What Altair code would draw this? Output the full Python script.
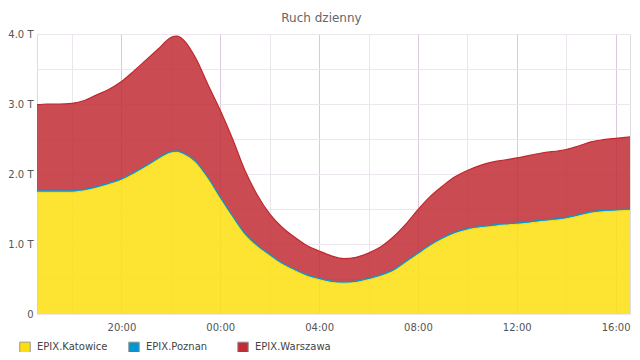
import altair as alt
import pandas as pd

# time stamps (local), 24 h window
times = [
    "2024-01-01T16:35", "2024-01-01T17:00", "2024-01-01T17:30", "2024-01-01T18:00",
    "2024-01-01T18:30", "2024-01-01T19:00", "2024-01-01T19:30", "2024-01-01T20:00",
    "2024-01-01T20:30", "2024-01-01T21:00", "2024-01-01T21:30", "2024-01-01T22:00",
    "2024-01-01T22:15", "2024-01-01T22:30", "2024-01-01T23:00", "2024-01-01T23:30",
    "2024-01-02T00:00", "2024-01-02T00:30", "2024-01-02T01:00", "2024-01-02T01:30",
    "2024-01-02T02:00", "2024-01-02T02:30", "2024-01-02T03:00", "2024-01-02T03:30",
    "2024-01-02T04:00", "2024-01-02T04:30", "2024-01-02T05:00", "2024-01-02T05:30",
    "2024-01-02T06:00", "2024-01-02T06:30", "2024-01-02T07:00", "2024-01-02T07:30",
    "2024-01-02T08:00", "2024-01-02T08:30", "2024-01-02T09:00", "2024-01-02T09:30",
    "2024-01-02T10:00", "2024-01-02T10:30", "2024-01-02T11:00", "2024-01-02T11:30",
    "2024-01-02T12:00", "2024-01-02T13:00", "2024-01-02T14:00", "2024-01-02T14:30",
    "2024-01-02T15:00", "2024-01-02T15:30", "2024-01-02T16:00", "2024-01-02T16:35",
]

# values in T
katowice = [
    1.74, 1.74, 1.74, 1.74, 1.76, 1.80, 1.85, 1.91,
    2.00, 2.10, 2.21, 2.30, 2.31, 2.28, 2.16, 1.93,
    1.65, 1.38, 1.13, 0.96, 0.83, 0.71, 0.62, 0.54,
    0.49, 0.45, 0.44, 0.45, 0.49, 0.54, 0.61, 0.73,
    0.85, 0.97, 1.07, 1.15, 1.20, 1.23, 1.25, 1.27,
    1.28, 1.32, 1.36, 1.40, 1.44, 1.46, 1.47, 1.48,
]
poznan = [
    0.02, 0.02, 0.02, 0.02, 0.02, 0.02, 0.02, 0.02,
    0.02, 0.02, 0.02, 0.02, 0.02, 0.02, 0.02, 0.02,
    0.02, 0.02, 0.02, 0.02, 0.02, 0.02, 0.02, 0.02,
    0.02, 0.02, 0.02, 0.02, 0.02, 0.02, 0.02, 0.02,
    0.02, 0.02, 0.02, 0.02, 0.02, 0.02, 0.02, 0.02,
    0.02, 0.02, 0.02, 0.02, 0.02, 0.02, 0.02, 0.02,
]
warszawa = [
    1.23, 1.24, 1.24, 1.25, 1.27, 1.31, 1.34, 1.39,
    1.45, 1.51, 1.56, 1.63, 1.64, 1.62, 1.48, 1.33,
    1.24, 1.10, 0.90, 0.72, 0.58, 0.51, 0.46, 0.42,
    0.39, 0.36, 0.33, 0.34, 0.36, 0.40, 0.47, 0.53,
    0.62, 0.69, 0.74, 0.79, 0.83, 0.87, 0.90, 0.91,
    0.93, 0.96, 0.97, 0.98, 1.00, 1.01, 1.02, 1.03,
]

series_names = ["EPIX.Katowice", "EPIX.Poznan", "EPIX.Warszawa"]
fill_colors = ["#FDDF0F", "#0096D1", "#C22C34"]
line_colors = ["#F8DC10", "#0A93CC", "#C0282D"]

rows = []
for i, (name, vals) in enumerate(zip(series_names, [katowice, poznan, warszawa])):
    for t, v in zip(times, vals):
        rows.append({"t": t, "value": v, "series": name, "ord": i})
df = pd.DataFrame(rows)

x_domain = [alt.DateTime(year=2024, month=1, date=1, hours=16, minutes=35),
            alt.DateTime(year=2024, month=1, date=2, hours=16, minutes=35)]
x_ticks = []
for d, h in [(1, 18), (1, 20), (1, 22), (2, 0), (2, 2), (2, 4), (2, 6), (2, 8),
             (2, 10), (2, 12), (2, 14), (2, 16)]:
    x_ticks.append(alt.DateTime(year=2024, month=1, date=d, hours=h))

y_ticks = [0, 0.5, 1.0, 1.5, 2.0, 2.5, 3.0, 3.5, 4.0]

x_enc = alt.X(
    "t:T",
    scale=alt.Scale(domain=x_domain),
    axis=alt.Axis(
        title=None,
        values=x_ticks,
        labelExpr="hours(datum.value) % 4 == 0 ? timeFormat(datum.value, '%H:%M') : ''",
        ticks=False,
        domain=False,
        labelPadding=8,
        labelColor="#555555",
        labelFont="DejaVu Sans",
        labelFontSize=10,
        gridColor={"condition": {"test": "hours(datum.value) % 4 == 0", "value": "#DCC8DC"},
                   "value": "#EAE6EA"},
        gridOpacity=1,
    ),
)
y_enc = alt.Y(
    "value:Q",
    stack="zero",
    scale=alt.Scale(domain=[0, 4], nice=False),
    axis=alt.Axis(
        title=None,
        values=y_ticks,
        labelExpr="datum.value % 1 == 0 ? (datum.value == 0 ? '0' : format(datum.value, '.1f') + ' T') : ''",
        ticks=False,
        domain=False,
        labelPadding=4,
        labelColor="#555555",
        labelFont="DejaVu Sans",
        labelFontSize=10,
        gridColor="#EEE6EE",
        gridOpacity=1,
    ),
)

area = alt.Chart(df).mark_area(interpolate="monotone", opacity=0.85).encode(
    x=x_enc,
    y=y_enc,
    order=alt.Order("ord:Q"),
    color=alt.Color(
        "series:N",
        scale=alt.Scale(domain=series_names, range=fill_colors),
        legend=alt.Legend(
            title=None,
            orient="none",
            legendX=-18,
            legendY=307,
            direction="horizontal",
            symbolType="square",
            symbolSize=110,
            symbolStrokeColor="#999999",
            symbolStrokeWidth=1,
            symbolOpacity=1,
            labelFont="DejaVu Sans",
            labelFontSize=10,
            labelColor="#444444",
            gridAlign="all",
            columnPadding=13,
            labelOffset=6,
            padding=0,
        ),
    ),
)

lines = alt.Chart(df).mark_line(interpolate="monotone", strokeWidth=1.2).encode(
    x=x_enc,
    y=y_enc,
    order=alt.Order("ord:Q"),
    color=alt.Color("series:N", scale=alt.Scale(domain=series_names, range=line_colors), legend=None),
)

chart = alt.layer(area, lines).resolve_scale(color="independent").properties(
    width=593,
    height=280,
    autosize=alt.AutoSizeParams(type="none"),
    padding={"left": 29, "top": 26, "right": 2, "bottom": 38},
    title=alt.TitleParams(
        "Ruch dzienny",
        fontSize=12,
        font="DejaVu Sans",
        fontWeight="normal",
        color="#666666",
        anchor="middle",
        dx=-12,
        offset=4,
    ),
).configure_view(stroke="#EBD9EB", strokeWidth=1).configure(background="white")

chart.save("out.html", embed_options={"renderer": "svg", "actions": False})
